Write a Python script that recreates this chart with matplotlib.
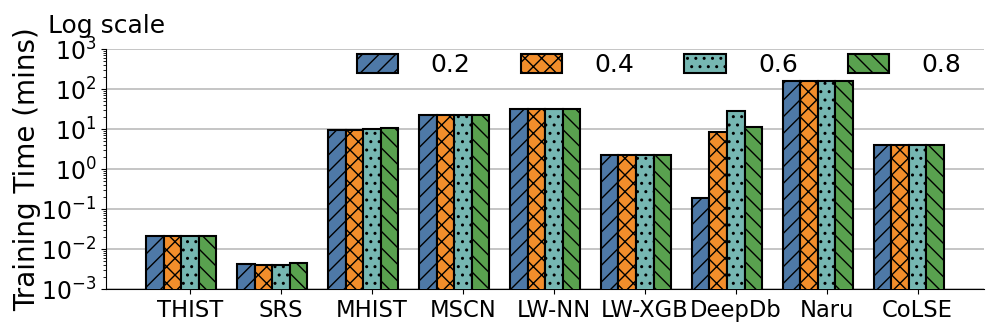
import numpy as np
import matplotlib.pyplot as plt

methods = ['THIST', 'SRS', 'MHIST', 'MSCN', 'LW-NN', 'LW-XGB', 'DeepDb', 'Naru', 'CoLSE']
ratios = ['0.2', '0.4', '0.6', '0.8']
t_02 = [0.021, 0.0043, 9.5, 23, 32, 2.25, 0.19, 158, 4.0]
t_04 = [0.021, 0.0040, 9.5, 23, 32, 2.25, 8.6, 158, 4.0]
t_06 = [0.021, 0.0039, 9.8, 22, 31, 2.25, 28.5, 158, 4.05]
t_08 = [0.021, 0.0045, 10.5, 23, 32, 2.25, 11.3, 158, 4.05]

colors = ['#4e79a7', '#f28e2b', '#76b7b2', '#59a14f']
hatches = ['//', 'xx', '..', '\\\\']

plt.rcParams['hatch.linewidth'] = 1.0
fig, ax = plt.subplots(figsize=(9.97, 3.32), dpi=100)
x = np.arange(len(methods))
w = 0.193
for i, vals in enumerate([t_02, t_04, t_06, t_08]):
    ax.bar(x + (i - 2) * w, vals, w, color=colors[i], hatch=hatches[i],
           edgecolor='black', linewidth=1.5, label=ratios[i], zorder=3)

ax.set_yscale('log')
ax.set_ylim(1e-3, 1e3)
ax.set_xlim(-0.924, 8.73)
ax.set_xticks(x)
ax.set_xticklabels(methods, fontsize=16.3)
ax.tick_params(axis='y', labelsize=17)
ax.set_ylabel('Training Time (mins)', fontsize=20, labelpad=0)
ax.yaxis.grid(True, color='#bbbbbb', linewidth=1.2, zorder=0)
ax.spines['top'].set_visible(False)
ax.spines['right'].set_visible(False)
fig.text(0.048, 0.9, 'Log scale', fontsize=18, ha='left', va='baseline')
ax.legend(ncol=4, loc='center right', frameon=False, fontsize=18,
          bbox_to_anchor=(1.0, 0.932), handlelength=1.65, handleheight=0.8,
          handletextpad=1.3, columnspacing=2.0)

fig.subplots_adjust(left=0.1063, right=0.987, top=0.852, bottom=0.1295)
fig.savefig('out.png')
